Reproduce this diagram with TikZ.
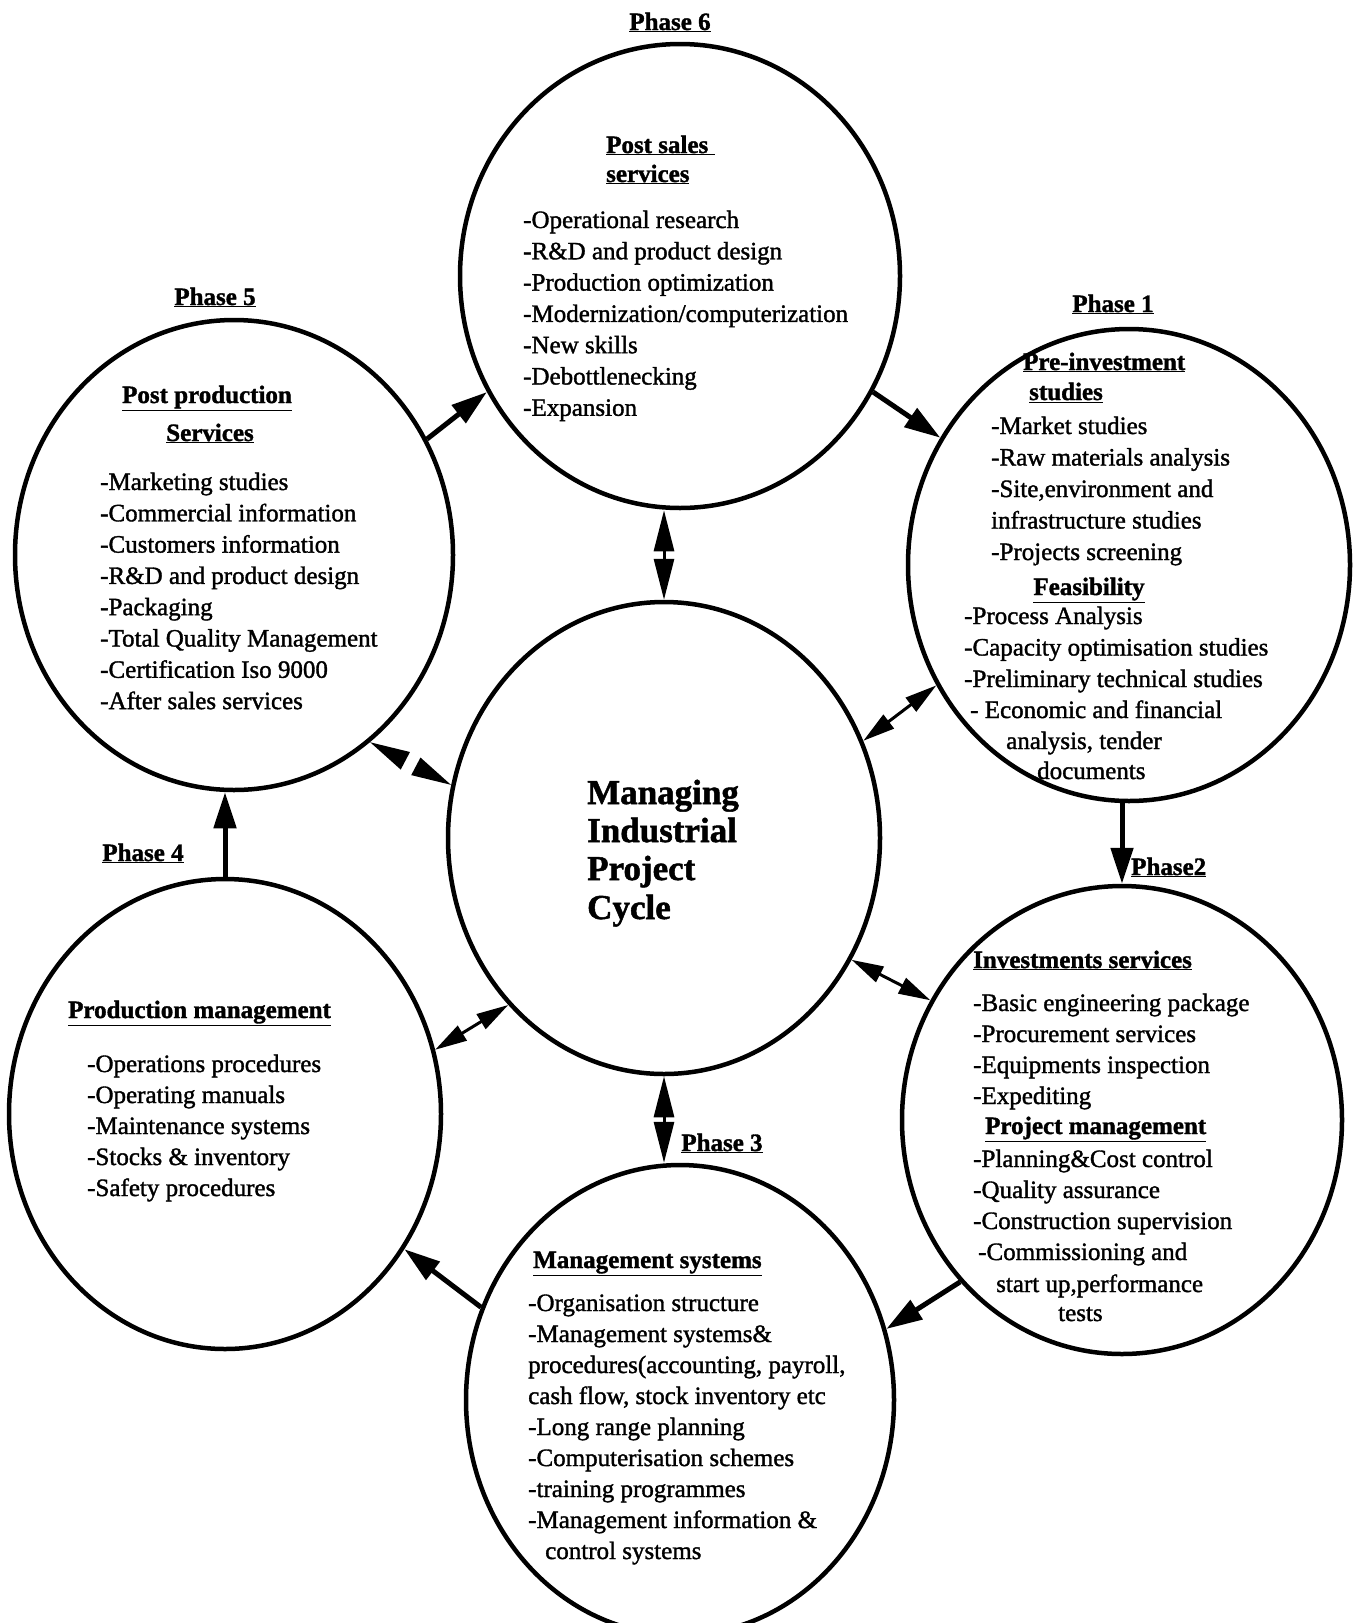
\documentclass[tikz,border=0pt]{standalone}
\usepackage{fontspec}
\setmainfont{Liberation Serif}[FakeBold=1.4]
\usetikzlibrary{shapes.geometric,arrows.meta}
\tikzset{
  phase/.style={ellipse, draw, line width=4.5pt, inner sep=0pt},
  flow/.style={line width=5pt, -{Triangle[length=36pt,width=22pt]}},
  link/.style={line width=3pt, {Triangle[length=32pt,width=17pt]}-{Triangle[length=32pt,width=17pt]}},
  biglink/.style={line width=3pt, {Triangle[length=41pt,width=20pt]}-{Triangle[length=41pt,width=20pt]}},
  gaplink/.style={line width=3pt, dash pattern=on 0pt off 800pt, {Triangle[length=40pt,width=19pt]}-{Triangle[length=40pt,width=19pt]}},
  item/.style={anchor=base west, inner sep=0pt, font=\fontsize{25}{31}\selectfont},
  head/.style={inner sep=0pt, font=\bfseries\fontsize{25}{31}\selectfont},
  title/.style={anchor=base west, inner sep=0pt, font=\bfseries\fontsize{35}{38}\selectfont}
}
\begin{document}
\begin{tikzpicture}[x=1pt,y=-1pt]
\useasboundingbox (0,0) rectangle (1353,1623);
% ellipses
\node[phase, minimum width=440pt, minimum height=464pt] (p6) at (680,276) {};
\node[phase, minimum width=442pt, minimum height=472pt] (p1) at (1129,565) {};
\node[phase, minimum width=438pt, minimum height=470pt] (p5) at (234,555) {};
\node[phase, minimum width=432pt, minimum height=472pt] (c) at (664,838) {};
\node[phase, minimum width=432pt, minimum height=470pt] (p4) at (225,1114) {};
\node[phase, minimum width=440pt, minimum height=468pt] (p2) at (1122,1120) {};
\node[phase, minimum width=428pt, minimum height=470pt] (p3) at (680,1400) {};

% phase labels
\node[head, anchor=base] (l6) at (670,30) {\underline{Phase 6}};
\node[head, anchor=base] (l5) at (215,305) {\underline{Phase 5}};
\node[head, anchor=base] (l1) at (1113,312) {\underline{Phase 1}};
\node[head, anchor=base west] (l2) at (1131,875) {\underline{Phase2}};
\node[head, anchor=base] (l4) at (143,861) {\underline{Phase 4}};
\node[head, anchor=base] (l3) at (722,1151) {\underline{Phase 3}};

% Phase 6 text
\node[head, anchor=base west] (h6a) at (606,153) {\underline{Post sales\ }};
\node[head, anchor=base west] (h6b) at (606,182) {\underline{services}};
\foreach \t [count=\i] in {{-Operational research},{-R\&D and product design},{-Production optimization},{-Modernization/computerization},{-New skills},{-Debottlenecking},{-Expansion}}
  \node[item] (s6-\i) at (523,{228+31.3*(\i-1)}) {\t};

% Phase 5 text
\node[head, anchor=base] (h5a) at (207,403) {\underline{Post production}};
\node[head, anchor=base] (h5b) at (210,441) {\underline{Services}};
\foreach \t [count=\i] in {{-Marketing studies},{-Commercial information},{-Customers information},{-R\&D and product design},{-Packaging},{-Total Quality Management},{-Certification Iso 9000},{-After sales services}}
  \node[item] (s5-\i) at (100,{490+31.3*(\i-1)}) {\t};

% Phase 1 text
\node[head, anchor=base west] (h1a) at (1023,370) {\underline{Pre-investment}};
\node[head, anchor=base west] (h1b) at (1029,400) {\underline{studies}};
\foreach \t [count=\i] in {{-Market studies},{-Raw materials analysis},{-Site,environment and},{infrastructure studies},{-Projects screening}}
  \node[item] (s1-\i) at (991,{434+31.5*(\i-1)}) {\t};
\node[head, anchor=base] (h1c) at (1089,595) {\underline{Feasibility}};
\foreach \t [count=\i] in {{-Process Analysis},{-Capacity optimisation studies},{-Preliminary technical studies}}
  \node[item] (f1-\i) at (964,{624+31.5*(\i-1)}) {\t};
\node[item] (f1-4) at (970,718) {- Economic and financial};
\node[item] (f1-5) at (1006,749) {analysis, tender};
\node[item] (f1-6) at (1037,779) {documents};

% Phase 2 text
\node[head, anchor=base west] (h2a) at (973,968) {\underline{Investments services}};
\foreach \t [count=\i] in {{-Basic engineering package},{-Procurement services},{-Equipments inspection},{-Expediting}}
  \node[item] (s2-\i) at (973,{1011+31*(\i-1)}) {\t};
\node[head, anchor=base west] (h2b) at (985,1134) {\underline{Project management}};
\foreach \t [count=\i] in {{-Planning\&Cost control},{-Quality assurance},{-Construction supervision}}
  \node[item] (m2-\i) at (973,{1167+31*(\i-1)}) {\t};
\node[item] (m2-4) at (978,1260) {-Commissioning and};
\node[item] (m2-5) at (996,1292) {start up,performance};
\node[item] (m2-6) at (1058,1321) {tests};

% Phase 4 text
\node[head, anchor=base west] (h4) at (68,1018) {\underline{Production management}};
\foreach \t [count=\i] in {{-Operations procedures},{-Operating manuals},{-Maintenance systems},{-Stocks \& inventory},{-Safety procedures}}
  \node[item] (s4-\i) at (87,{1072+31*(\i-1)}) {\t};

% Phase 3 text
\node[head, anchor=base west] (h3) at (533,1268) {\underline{Management systems}};
\foreach \t [count=\i] in {{-Organisation structure},{-Management systems\&},{procedures(accounting, payroll,},{cash flow, stock inventory etc},{-Long range planning},{-Computerisation schemes},{-training programmes},{-Management information \&}}
  \node[item] (s3-\i) at (528,{1311+31*(\i-1)}) {\t};
\node[item] (s3-9) at (545,1559) {control systems};

% centre title
\node[title] (t1) at (587,804) {Managing};
\node[title] (t2) at (587,842) {Industrial};
\node[title] (t3) at (587,880) {Project};
\node[title] (t4) at (587,919) {Cycle};

% cycle arrows
\draw[flow] (p5.31.7) -- (p6.211.5);
\draw[flow] (p6.-31.8) -- (p1.146);
\draw[flow] (p2.north |- p1.south) -- (p2.north);
\draw[flow] (p2.-135) -- (p3.19.4);
\draw[flow] (p3.155.2) -- (p4.-37.4);
\draw[flow] (p4.north) -- (p4.north |- p5.south);

% links with the centre
\draw[biglink] (c.north) -- (c.north |- p6.south);
\draw[link] (c.26.7) -- (p1.212.8);
\draw[link] (c.-33.3) -- (p2.148.2);
\draw[biglink] (c.south) -- (c.south |- p3.north);
\draw[link] (c.227.4) -- (p4.17.6);
\draw[gaplink] (c.166.2) -- (p5.-54.4);
\end{tikzpicture}
\end{document}
